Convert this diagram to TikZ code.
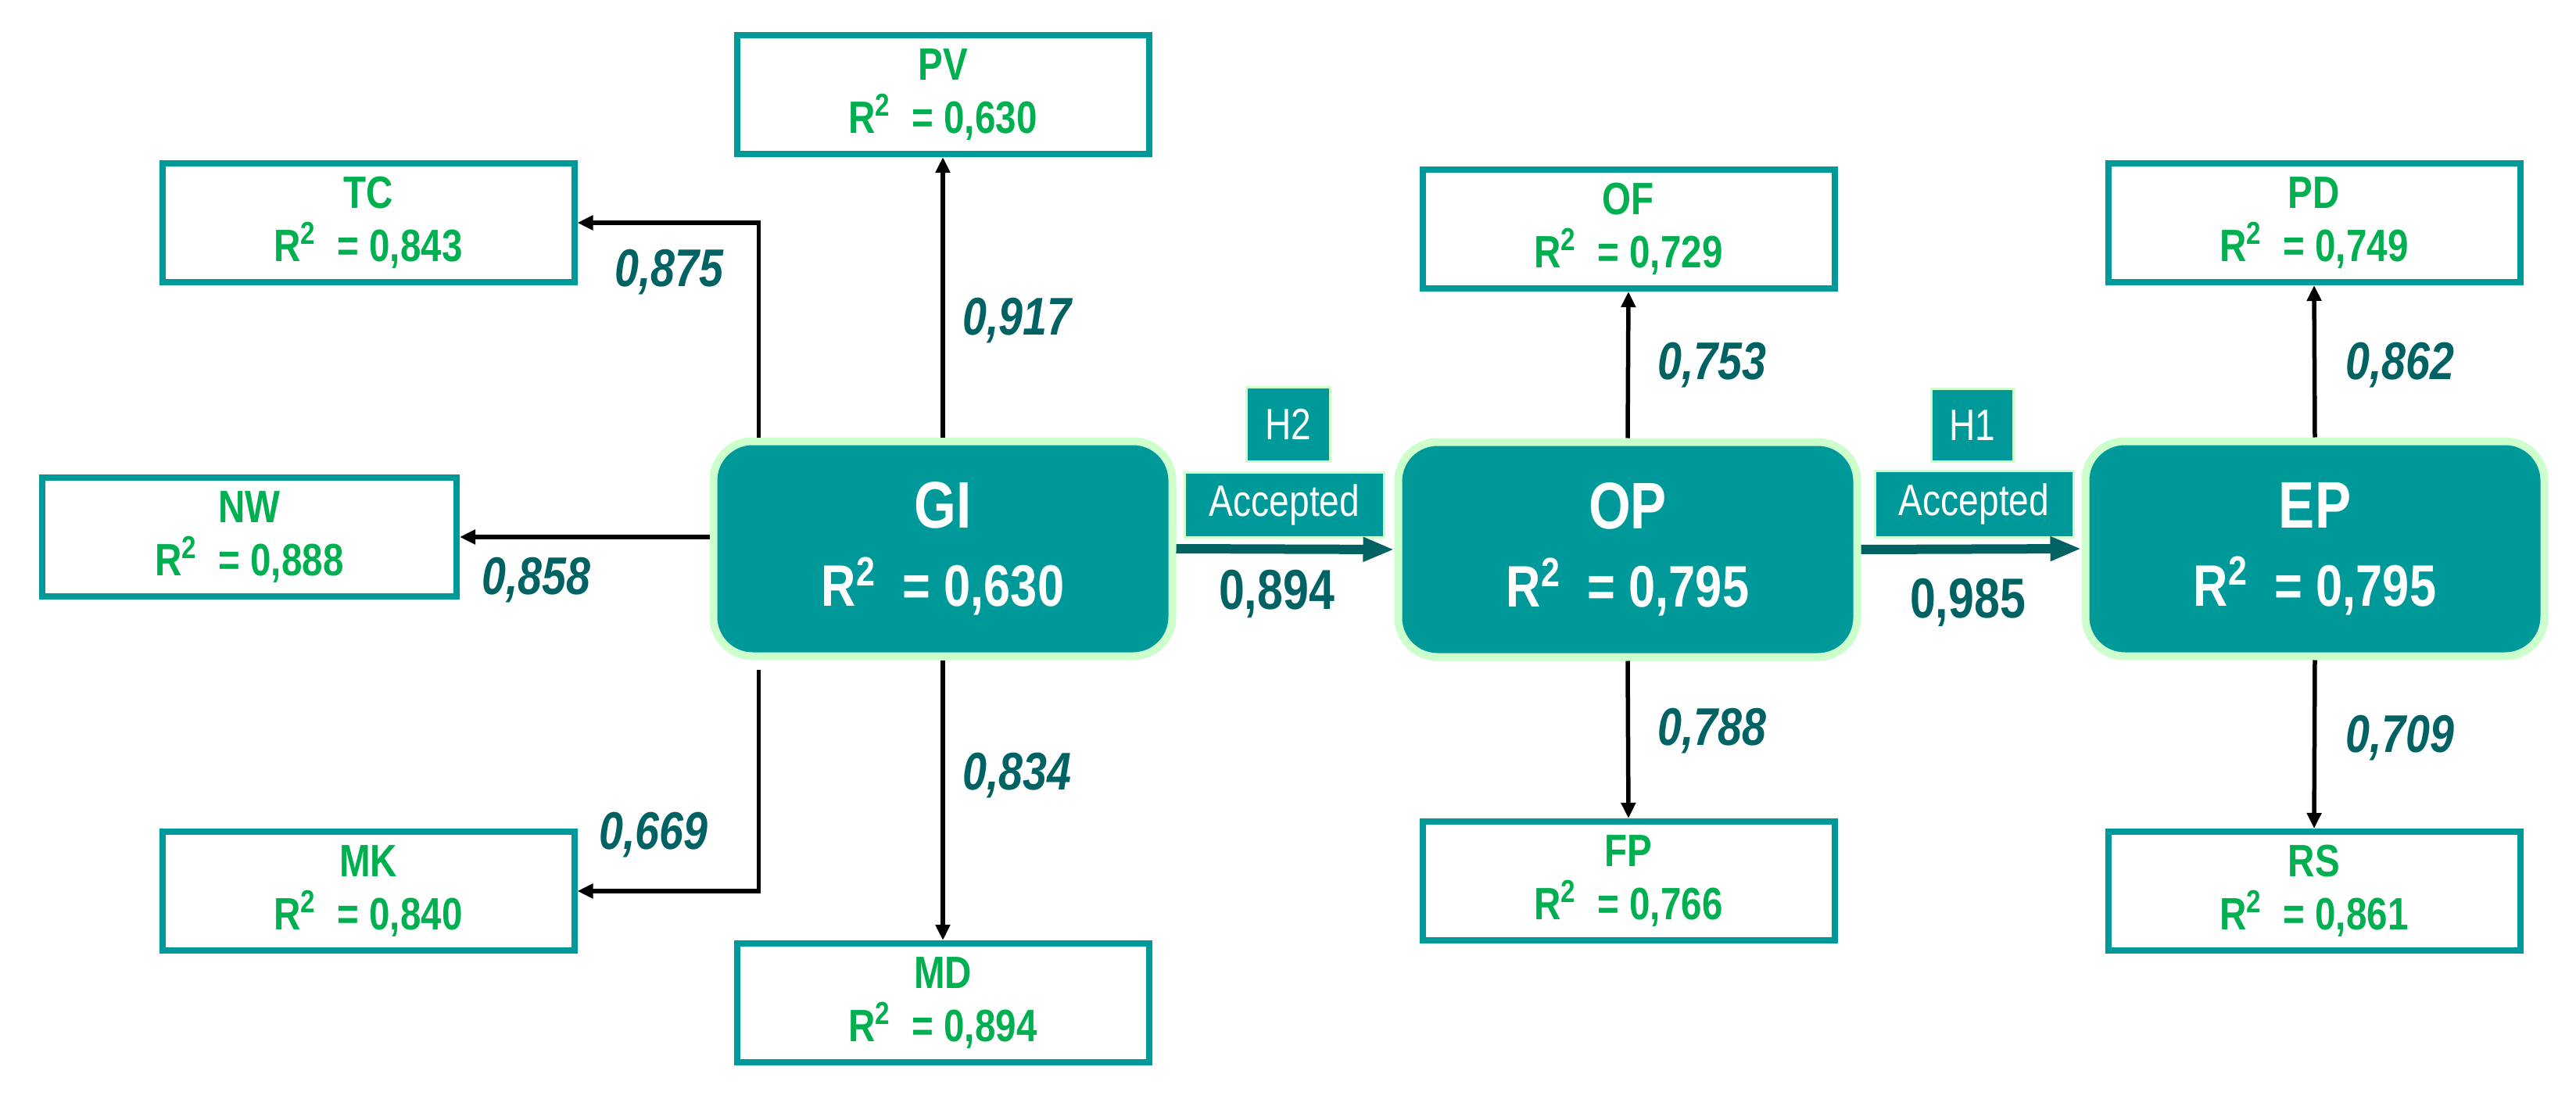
\documentclass[tikz,border=0pt]{standalone}
\usepackage{fontspec}
\usepackage{tikz}
\usetikzlibrary{arrows.meta,shapes,positioning}
\newfontfamily\narrowfont[FakeStretch=0.82]{Liberation Sans}
\definecolor{boxteal}{HTML}{009999}
\definecolor{boxglow}{HTML}{CCFFCC}
\definecolor{itemgreen}{HTML}{00B050}
\definecolor{loadteal}{HTML}{006262}
\newcommand{\rsq}[1]{R\textsuperscript{2}~ = #1}

\begin{document}
\begin{tikzpicture}
\tikzset{latent/.style =
{rectangle, rounded corners=0.5cm,
fill=boxteal, draw=boxglow, line width=0.1cm,
minimum width=5.87cm, minimum height=2.75cm,
text=white, align=center,
font=\narrowfont\bfseries\fontsize{24}{28.5}\selectfont}}
\tikzset{indicator/.style =
{rectangle, draw=boxteal, line width=0.08cm, fill=white,
minimum width=5.27cm, minimum height=1.52cm,
text=itemgreen, align=center,
font=\narrowfont\bfseries\fontsize{16.5}{19.4}\selectfont}}
\tikzset{hypo/.style =
{rectangle, fill=boxteal, draw=boxglow, line width=0.03cm,
text=white, inner sep=0pt,
font=\narrowfont\fontsize{16}{19}\selectfont}}
\tikzset{loadlabel/.style = {text=loadteal, font=\narrowfont\bfseries\itshape\fontsize{19.3}{22}\selectfont}}
\tikzset{coeflabel/.style = {text=loadteal, font=\narrowfont\bfseries\fontsize{20.5}{22}\selectfont}}
\tikzset{link/.style = {line width=0.055cm, -{Triangle[length=0.2cm,width=0.18cm]}}}
\tikzset{structural/.style = {draw=loadteal, line width=0.12cm, -{Triangle[length=0.4cm,width=0.29cm]}}}
\useasboundingbox (0,0) rectangle (32.95,-14.06);
% latent constructs
\node[latent] (GI) at (12.06,-7.02) {GI\\{\fontsize{21.3}{28.5}\selectfont\rsq{0,630}}};
\node[latent] (OP) at (20.82,-7.03) {OP\\{\fontsize{21.3}{28.5}\selectfont\rsq{0,795}}};
\node[latent] (EP) at (29.61,-7.02) {EP\\{\fontsize{21.3}{28.5}\selectfont\rsq{0,795}}};
% indicators
\node[indicator] (PV) at (12.06,-1.21) {PV\\\rsq{0,630}};
\node[indicator] (TC) at (4.71,-2.85) {TC\\\rsq{0,843}};
\node[indicator, minimum width=5.30cm] (NW) at (3.19,-6.87) {NW\\\rsq{0,888}};
\node[indicator] (MK) at (4.71,-11.40) {MK\\\rsq{0,840}};
\node[indicator] (MD) at (12.06,-12.83) {MD\\\rsq{0,894}};
\node[indicator] (OF) at (20.83,-2.93) {OF\\\rsq{0,729}};
\node[indicator] (FP) at (20.83,-11.27) {FP\\\rsq{0,766}};
\node[indicator] (PD) at (29.60,-2.85) {PD\\\rsq{0,749}};
\node[indicator] (RS) at (29.60,-11.40) {RS\\\rsq{0,861}};
% hypotheses
\node[hypo, minimum width=1.07cm, minimum height=0.94cm] (H2) at (16.48,-5.43) {H2};
\node[hypo, minimum width=2.55cm, minimum height=0.83cm] (acc2) at (16.43,-6.46) {Accepted};
\node[hypo, minimum width=1.05cm, minimum height=0.93cm] (H1) at (25.23,-5.44) {H1};
\node[hypo, minimum width=2.54cm, minimum height=0.85cm] (acc1) at (25.25,-6.45) {Accepted};
\draw[link] (GI.north) -- (PV.south);
\draw[link] (GI.south) -- (MD.north);
\draw[link] ([xshift=6.3mm]GI.north west) |- (TC.east);
\draw[link] ([xshift=6.3mm,yshift=-1.2mm]GI.south west) |- (MK.east);
\draw[link] (GI.west |- NW.east) -- (NW.east);
\draw[link] (OP.north) -- (OF.south);
\draw[link] (OP.south) -- (FP.north);
\draw[link] (EP.north) -- (PD.south);
\draw[link] (EP.south) -- (RS.north);
\draw[structural] (GI.east) -- (OP.west);
\draw[structural] (OP.east) -- (EP.west);
% loadings
\node[loadlabel] (lTC) at (8.56,-3.48) {0,875};
\node[loadlabel] (lPV) at (13.01,-4.10) {0,917};
\node[loadlabel] (lNW) at (6.86,-7.42) {0,858};
\node[loadlabel] (lMD) at (13.01,-9.92) {0,834};
\node[loadlabel] (lMK) at (8.36,-10.68) {0,669};
\node[loadlabel] (lOF) at (21.90,-4.67) {0,753};
\node[loadlabel] (lFP) at (21.90,-9.35) {0,788};
\node[loadlabel] (lPD) at (30.70,-4.67) {0,862};
\node[loadlabel] (lRS) at (30.70,-9.44) {0,709};
\node[coeflabel] (cH2) at (16.33,-7.60) {0,894};
\node[coeflabel] (cH1) at (25.17,-7.71) {0,985};
\end{tikzpicture}
\end{document}
